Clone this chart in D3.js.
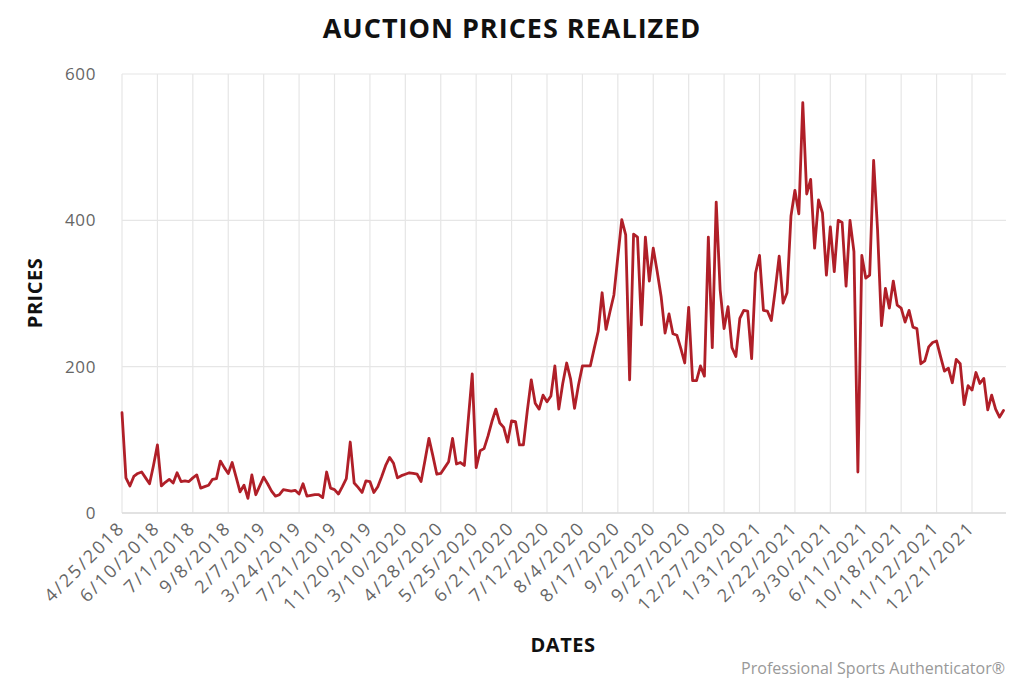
<!DOCTYPE html>
<html>
<head>
<meta charset="utf-8">
<script src="https://cdn.jsdelivr.net/npm/d3@7"></script>
<style>
  html, body { margin: 0; padding: 0; background: #fff; }
  svg { display: block; }
  text { font-family: "Open Sans", "DejaVu Sans", sans-serif; }
</style>
</head>
<body>
<svg id="chart" width="1024" height="683"></svg>
<script>
// Tick labels shown on the category axis (every 9th sale)
const tickLabels = ["4/25/2018","6/10/2018","7/1/2018","9/8/2018","2/7/2019","3/24/2019","7/21/2019",
  "11/20/2019","3/10/2020","4/28/2020","5/25/2020","6/21/2020","7/12/2020","8/4/2020","8/17/2020",
  "9/2/2020","9/27/2020","12/27/2020","1/31/2021","2/22/2021","3/30/2021","6/11/2021","10/18/2021",
  "11/12/2021","12/21/2021"];
const tickStep = 9;
const yTicks = [0, 200, 400, 600];

// Realized prices, one per sale, in order
const prices = [
  137,48,37,50,54,56,48,40,65,93,
  37,42,46,41,55,43,44,43,48,52,
  34,36,38,46,47,71,62,54,69,49,
  29,38,20,52,25,37,49,40,30,23,
  25,32,31,30,31,26,40,23,24,25,
  25,21,56,34,32,26,36,47,97,41,
  35,28,44,43,28,36,50,65,76,68,
  48,51,53,55,54,53,43,72,102,78,
  53,54,62,70,102,67,69,65,128,190,
  62,85,88,105,125,142,123,117,97,126,
  125,93,93,140,182,150,142,161,152,160,
  201,142,177,205,183,143,175,201,201,201,
  225,248,301,251,275,298,350,401,380,182,
  381,377,257,377,317,362,330,296,246,272,
  245,243,225,205,281,181,181,201,187,377,
  226,425,305,252,282,226,214,266,277,276,
  211,328,352,277,276,263,305,351,287,301,
  406,441,409,561,436,456,362,428,410,325,
  391,330,400,397,310,400,357,56,352,321,
  325,482,387,256,307,280,317,284,280,261,
  277,254,252,204,208,227,233,235,214,194,
  198,178,210,204,148,174,168,192,177,184,
  141,161,142,131,140
];

const svg = d3.select("#chart");
const mLeft = 122, mTop = 74, mBottom = 513, mRight = 1006;
const step = 850 / (tickStep * (tickLabels.length - 1));

const x = d3.scaleLinear().domain([0, prices.length - 1]).range([mLeft, mLeft + step * (prices.length - 1)]);
const y = d3.scaleLinear().domain([0, 600]).range([mBottom, mTop]);

// horizontal grid
svg.append("g").selectAll("line").data(yTicks).join("line")
  .attr("x1", mLeft).attr("x2", mRight)
  .attr("y1", d => y(d)).attr("y2", d => y(d))
  .attr("stroke", "#e6e6e6").attr("stroke-width", 1.2);

// vertical grid at labelled categories
const tickIdx = tickLabels.map((_, i) => i * tickStep);
svg.append("g").selectAll("line").data(tickIdx).join("line")
  .attr("x1", d => x(d)).attr("x2", d => x(d))
  .attr("y1", mTop).attr("y2", mBottom)
  .attr("stroke", "#e6e6e6").attr("stroke-width", 1.2);

// bottom axis line
svg.append("line").attr("x1", mLeft).attr("x2", mRight).attr("y1", mBottom).attr("y2", mBottom)
  .attr("stroke", "#dcdcdc").attr("stroke-width", 1.5);

// y labels
svg.append("g").selectAll("text").data(yTicks).join("text")
  .attr("x", 96).attr("y", d => y(d)).attr("dy", "0.35em")
  .attr("text-anchor", "end").attr("fill", "#666").attr("font-size", 17)
  .attr("letter-spacing", 0.6)
  .text(d => d);

// x labels
svg.append("g").selectAll("text").data(tickLabels).join("text")
  .attr("transform", (d, i) => `translate(${x(i * tickStep) + 4},${529}) rotate(-45)`)
  .attr("text-anchor", "end").attr("fill", "#666").attr("font-size", 18)
  .attr("letter-spacing", 2.2)
  .text(d => d);

// line
svg.append("path").datum(prices)
  .attr("fill", "none").attr("stroke", "#b01f28").attr("stroke-width", 2.8)
  .attr("stroke-linejoin", "round").attr("stroke-linecap", "round")
  .attr("d", d3.line().x((d, i) => x(i)).y(d => y(d)));

// titles
svg.append("text").attr("x", 512).attr("y", 38).attr("text-anchor", "middle")
  .attr("font-size", 27).attr("font-weight", "bold").attr("fill", "#111")
  .attr("letter-spacing", 1)
  .text("AUCTION PRICES REALIZED");
svg.append("text").attr("transform", "translate(42,293) rotate(-90)").attr("text-anchor", "middle")
  .attr("font-size", 20).attr("font-weight", "bold").attr("fill", "#111")
  .attr("letter-spacing", 0.5)
  .text("PRICES");
svg.append("text").attr("x", 563).attr("y", 652).attr("text-anchor", "middle")
  .attr("font-size", 20).attr("font-weight", "bold").attr("fill", "#111")
  .attr("letter-spacing", 0.5)
  .text("DATES");
svg.append("text").attr("x", 1005).attr("y", 674).attr("text-anchor", "end")
  .attr("font-size", 16).attr("fill", "#999")
  .text("Professional Sports Authenticator®");
</script>
</body>
</html>
